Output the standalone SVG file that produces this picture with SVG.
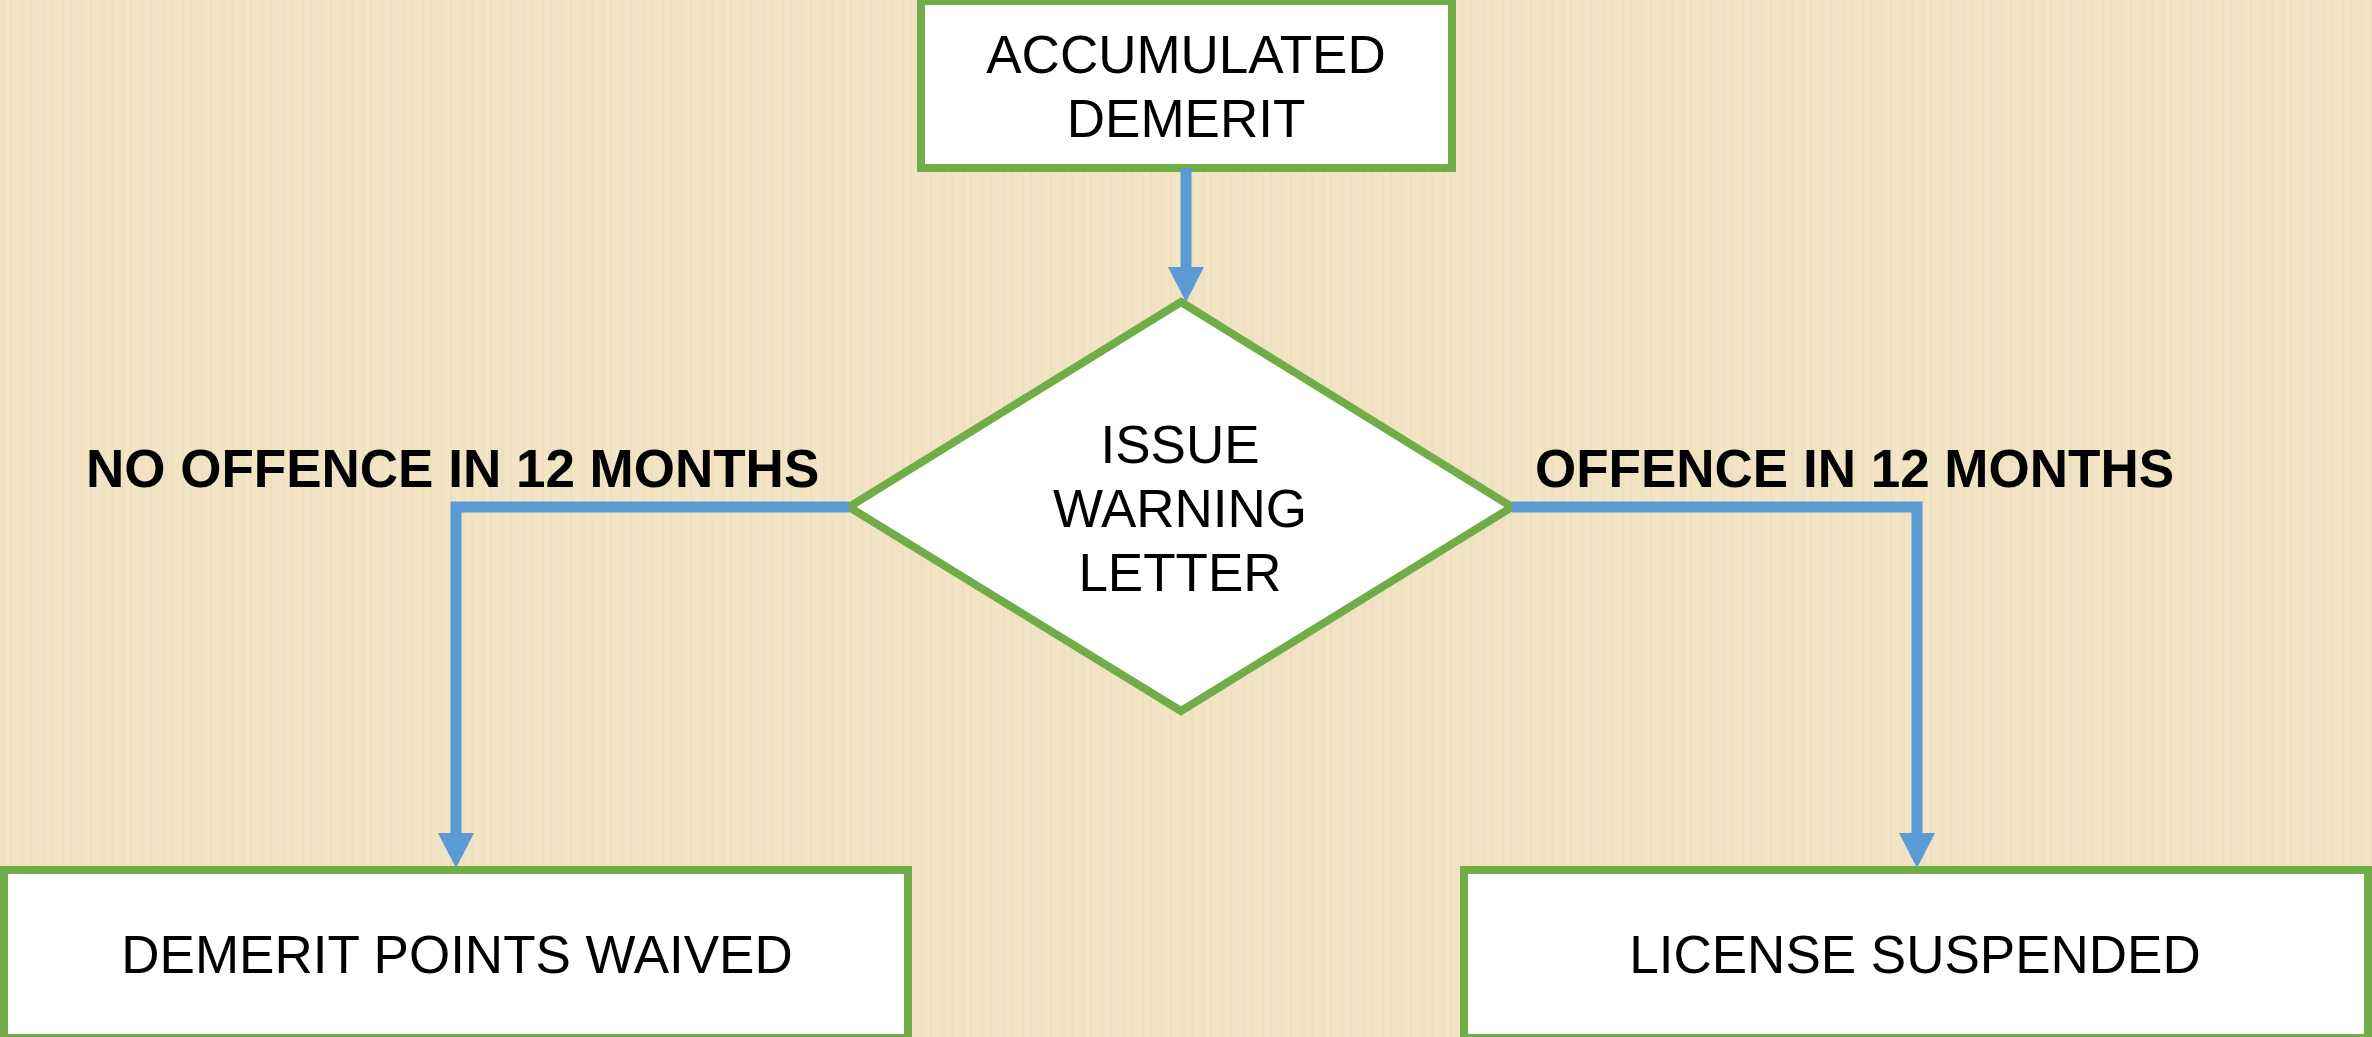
<svg xmlns="http://www.w3.org/2000/svg" width="2372" height="1037" viewBox="0 0 2372 1037">
<style>
.node{fill:#FFFFFF;stroke:#70AD47;stroke-width:8}
.lbl{font-family:"Liberation Sans",Arial,sans-serif;font-size:53px;fill:#000000;text-anchor:middle}
.cond{font-family:"Liberation Sans",Arial,sans-serif;font-size:53px;font-weight:bold;fill:#000000}
.conn{fill:none;stroke:#5B9BD5;stroke-width:11}
</style>
<defs>
<marker id="arrow" markerUnits="userSpaceOnUse" viewBox="0 -18 35 36" refX="0" refY="0" markerWidth="35" markerHeight="36" orient="auto">
<path d="M0,-18 L35,0 L0,18 Z" fill="#5B9BD5"/>
</marker>
<pattern id="tex" patternUnits="userSpaceOnUse" width="60" height="80">
<rect width="60" height="80" fill="#F1E3C4"/>
<path d="M3,0V80M11,0V80M22,0V80M31,0V80M44,0V80M52,0V80" stroke="#E8D7B2" stroke-width="1.5" opacity="0.55"/>
<path d="M7,0V80M38,0V80" stroke="#F7ECD6" stroke-width="1" opacity="0.6"/>
</pattern>
</defs>
<rect x="0" y="0" width="2372" height="1037" fill="url(#tex)"/>
<g id="node-accumulated">
<rect class="node" x="921" y="1" width="531" height="167"/>
<text class="lbl" x="1186" y="73">ACCUMULATED</text>
<text class="lbl" x="1186" y="137">DEMERIT</text>
</g>
<g id="node-warning">
<polygon class="node" points="1181,302 1512,507 1181,711 849,507"/>
<text class="lbl" x="1180" y="463">ISSUE</text>
<text class="lbl" x="1180" y="527">WARNING</text>
<text class="lbl" x="1180" y="591">LETTER</text>
</g>
<g id="node-waived">
<rect class="node" x="4" y="870" width="904" height="168"/>
<text class="lbl" x="457" y="973">DEMERIT POINTS WAIVED</text>
</g>
<g id="node-suspended">
<rect class="node" x="1464" y="870" width="904" height="168"/>
<text class="lbl" x="1915" y="973">LICENSE SUSPENDED</text>
</g>
<g id="connectors">
<path class="conn" d="M1186,168 V267" marker-end="url(#arrow)"/>
<path class="conn" d="M849,507 H456 V833" marker-end="url(#arrow)"/>
<path class="conn" d="M1512,507 H1917 V833" marker-end="url(#arrow)"/>
<text class="cond" x="86" y="487">NO OFFENCE IN 12 MONTHS</text>
<text class="cond" x="1535" y="487">OFFENCE IN 12 MONTHS</text>
</g>
</svg>
